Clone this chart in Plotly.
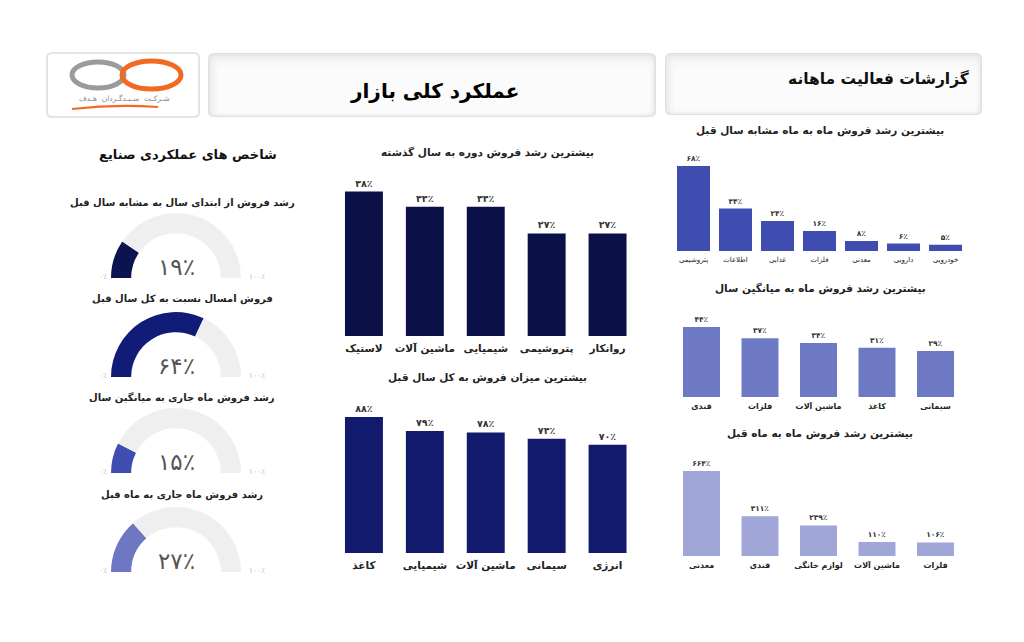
import plotly.graph_objects as go

W, H = 1024, 642
FONT = "DejaVu Sans"

# ---------------- data ----------------
mid1_title = "بیشترین رشد فروش دوره به سال گذشته"
mid1_cats = ["لاستیک", "ماشین آلات", "شیمیایی", "پتروشیمی", "روانکار"]
mid1_vals = [38, 34, 34, 27, 27]

mid2_title = "بیشترین میزان فروش به کل سال قبل"
mid2_cats = ["کاغذ", "شیمیایی", "ماشین آلات", "سیمانی", "انرژی"]
mid2_vals = [88, 79, 78, 74, 70]

r1_title = "بیشترین رشد فروش ماه به ماه مشابه سال قبل"
r1_cats = ["پتروشیمی", "اطلاعات", "غذایی", "فلزات", "معدنی", "دارویی", "خودرویی"]
r1_vals = [68, 34, 24, 16, 8, 6, 5]

r2_title = "بیشترین رشد فروش ماه به میانگین سال"
r2_cats = ["قندی", "فلزات", "ماشین آلات", "کاغذ", "سیمانی"]
r2_vals = [44, 37, 34, 31, 29]

r3_title = "بیشترین رشد فروش ماه به ماه قبل"
r3_cats = ["معدنی", "قندی", "لوازم خانگی", "ماشین آلات", "فلزات"]
r3_vals = [664, 311, 239, 110, 106]

gauge_titles = [
    "رشد فروش از ابتدای سال به مشابه سال قبل",
    "فروش امسال نسبت به کل سال قبل",
    "رشد فروش ماه جاری به میانگین سال",
    "رشد فروش ماه جاری به ماه قبل",
]
gauge_vals = [19, 64, 15, 27]
gauge_max = 100
gauge_colors = ["#0c1450", "#111b78", "#3f4cb0", "#6e78c2"]

FA = str.maketrans("0123456789", "۰۱۲۳۴۵۶۷۸۹")


def fa(v):
    return str(v).translate(FA) + "٪"


def px(x):
    return x / W


def py(y):
    return 1 - y / H


fig = go.Figure()
annotations = []
shapes = []


def note(x, y, text, size, color="#222222", bold=False, xanchor="center"):
    annotations.append(dict(
        x=px(x), y=py(y), xref="paper", yref="paper", text=text, showarrow=False,
        xanchor=xanchor, yanchor="middle",
        font=dict(family=FONT, size=size, color=color, weight="bold" if bold else "normal"),
    ))


# ---------------- bar charts ----------------
charts = [
    dict(cats=mid1_cats, vals=mid1_vals, color="#0b1048", x=(333.5, 638), y=(184, 336),
         rng=[0, 40], width=0.623, tsize=10.5, tbold=True, vsize=9.5, title=mid1_title,
         tpos=(487, 153), tfs=10.5, stand=4),
    dict(cats=mid2_cats, vals=mid2_vals, color="#111a6c", x=(333.5, 638), y=(398.5, 553),
         rng=[0, 100], width=0.623, tsize=10.5, tbold=True, vsize=9.5, title=mid2_title,
         tpos=(487, 377), tfs=10.5, stand=4),
    dict(cats=r1_cats, vals=r1_vals, color="#3f4db0", x=(672.5, 966.5), y=(163.5, 251),
         rng=[0, 70], width=0.786, tsize=7, tbold=False, vsize=7.5, title=r1_title,
         tpos=(820, 130), tfs=10.5, stand=3),
    dict(cats=r2_cats, vals=r2_vals, color="#6e79c4", x=(672.25, 964.75), y=(317.5, 397),
         rng=[0, 50], width=0.632, tsize=8, tbold=True, vsize=7.5, title=r2_title,
         tpos=(820, 288), tfs=10.5, stand=3),
    dict(cats=r3_cats, vals=r3_vals, color="#a0a6d8", x=(672.25, 964.75), y=(466.4, 556),
         rng=[0, 700], width=0.632, tsize=8, tbold=True, vsize=7.5, title=r3_title,
         tpos=(820, 433), tfs=10.5, stand=3),
]

layout_axes = {}
for i, c in enumerate(charts, start=1):
    xa = "x" if i == 1 else f"x{i}"
    ya = "y" if i == 1 else f"y{i}"
    fig.add_trace(go.Bar(
        x=c["cats"], y=c["vals"], xaxis=xa, yaxis=ya, width=c["width"],
        marker=dict(color=c["color"], line=dict(width=0)),
        text=[fa(v) for v in c["vals"]], textposition="outside", cliponaxis=False,
        textfont=dict(family=FONT, size=c["vsize"], color="#333333", weight="bold"),
        showlegend=False, hoverinfo="skip",
    ))
    xkey = "xaxis" if i == 1 else f"xaxis{i}"
    ykey = "yaxis" if i == 1 else f"yaxis{i}"
    n = len(c["cats"])
    layout_axes[xkey] = dict(
        domain=[px(c["x"][0]), px(c["x"][1])], anchor=ya, range=[-0.5, n - 0.5],
        showgrid=False, zeroline=False, showline=False, ticks="",
        tickfont=dict(family=FONT, size=c["tsize"], color="#222222",
                      weight="bold" if c["tbold"] else "normal"),
        ticklabelstandoff=c["stand"], fixedrange=True,
    )
    layout_axes[ykey] = dict(
        domain=[py(c["y"][1]), py(c["y"][0])], anchor=xa, range=c["rng"],
        visible=False, showgrid=False, zeroline=False, fixedrange=True,
    )
    note(c["tpos"][0], c["tpos"][1], c["title"], c["tfs"], bold=True)

# ---------------- gauges (half donuts) ----------------
g_cx = 176
g_r = 65
g_bottoms = [278, 377, 473, 572]
g_title_y = [203, 299, 397, 495]
for t, v, col, b, ty in zip(gauge_titles, gauge_vals, gauge_colors, g_bottoms, g_title_y):
    fig.add_trace(go.Pie(
        values=[v, gauge_max - v, gauge_max], sort=False, direction="clockwise",
        rotation=-90, hole=0.69, textinfo="none", hoverinfo="skip", showlegend=False,
        marker=dict(colors=[col, "#efefef", "rgba(0,0,0,0)"], line=dict(width=0)),
        domain=dict(x=[px(g_cx - g_r), px(g_cx + g_r)], y=[py(b + g_r), py(b - g_r)]),
    ))
    note(182, ty, t, 10, bold=True)
    note(g_cx, b - 11, fa(v), 23, color="#555555")
    note(103, b - 2, fa(0), 7.5, color="#b5b5b5")
    note(257, b - 2, fa(gauge_max), 7.5, color="#b5b5b5")

note(188, 154, "شاخص های عملکردی صنایع", 13, color="#111111", bold=True)


# ---------------- header panels ----------------
def rrect(x0, y0, x1, y1, r):
    rx, ry = r / W, r / H
    X0, X1, Y0, Y1 = px(x0), px(x1), py(y0), py(y1)
    return (f"M {X0+rx},{Y0} L {X1-rx},{Y0} Q {X1},{Y0} {X1},{Y0-ry} "
            f"L {X1},{Y1+ry} Q {X1},{Y1} {X1-rx},{Y1} L {X0+rx},{Y1} "
            f"Q {X0},{Y1} {X0},{Y1+ry} L {X0},{Y0-ry} Q {X0},{Y0} {X0+rx},{Y0} Z")


def panel(x0, y0, x1, y1, steps):
    for dl, dt, dr, db, colr in steps:
        shapes.append(dict(type="path", path=rrect(x0 + dl, y0 + dt, x1 - dr, y1 - db, 6),
                           xref="paper", yref="paper", fillcolor=colr,
                           line=dict(width=0), layer="below"))


shade = [(0, 0, 0, 0, "#e0e0e0"), (1, 1, 1, 1, "#e7e7e7"), (2, 3, 2, 1, "#eeeeee"),
         (4, 5, 3, 2, "#f3f3f3"), (6, 8, 4, 3, "#f7f7f7"), (9, 12, 6, 4, "#fbfbfb")]
panel(208, 53, 656, 117, shade)
panel(665, 53, 982, 115, shade)
# logo box
shapes.append(dict(type="path", path=rrect(47, 53, 199, 117, 5), xref="paper", yref="paper",
                   fillcolor="#ffffff", line=dict(color="#e4e4e4", width=2), layer="below"))
# logo mark
shapes.append(dict(type="circle", xref="paper", yref="paper", x0=px(72), x1=px(124),
                   y0=py(88), y1=py(62), line=dict(color="#9b9b9b", width=5)))
shapes.append(dict(type="circle", xref="paper", yref="paper", x0=px(122), x1=px(181),
                   y0=py(89), y1=py(61), line=dict(color="#f26a21", width=5)))
shapes.append(dict(type="path", xref="paper", yref="paper",
                   path=f"M {px(72)},{py(109)} Q {px(115)},{py(104)} {px(158)},{py(107)}",
                   line=dict(color="#f26a21", width=2)))
note(124, 98.5, "شـرکـت  سـبـدگـردان  هـدف", 7.5, color="#8a8a8a")

note(434, 91, "عملکرد کلی بازار", 20, color="#000000", bold=True)
note(972, 78, "گزارشات فعالیت ماهانه", 15.5, color="#111111", bold=True, xanchor="right")

fig.update_layout(
    width=W, height=H, margin=dict(l=0, r=0, t=0, b=0),
    paper_bgcolor="#ffffff", plot_bgcolor="rgba(0,0,0,0)",
    showlegend=False, annotations=annotations, shapes=shapes,
    font=dict(family=FONT), **layout_axes,
)

fig.write_html("out.html")
